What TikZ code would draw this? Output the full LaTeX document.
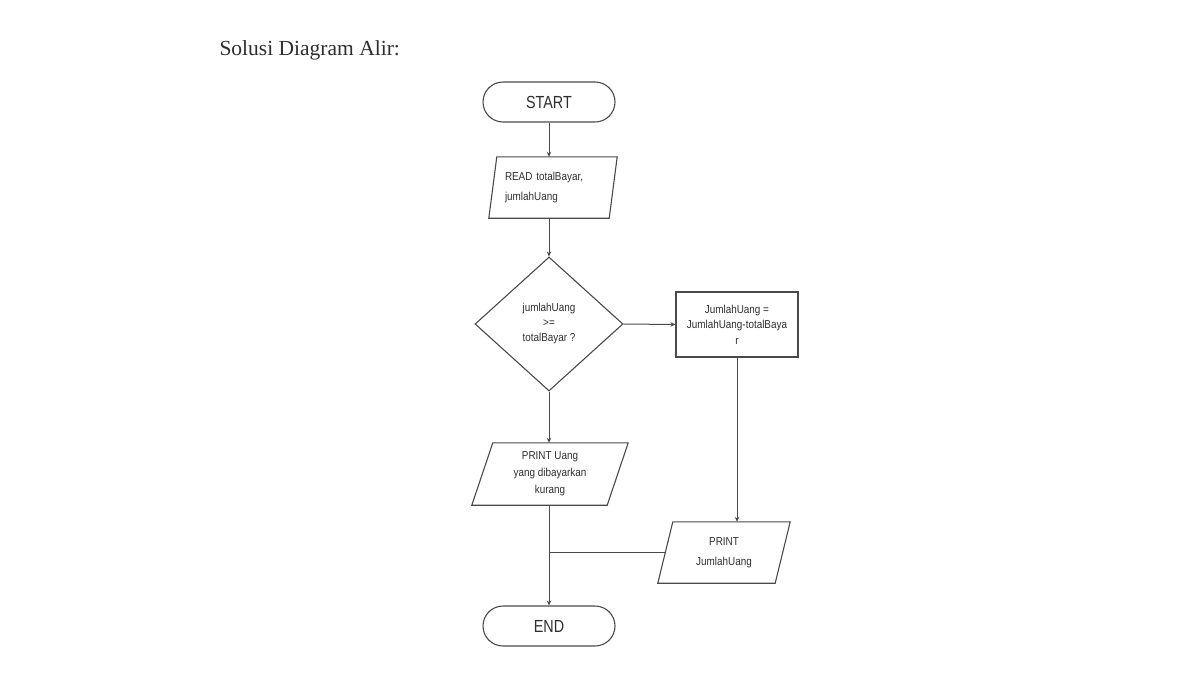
\documentclass[tikz,border=0pt]{standalone}
\usepackage{fontspec}
\usetikzlibrary{arrows.meta,shapes.geometric,calc}
\newfontfamily\flowfont[FakeStretch=0.86]{Liberation Sans}
\newfontfamily\bigflowfont[FakeStretch=0.82]{Liberation Sans}
\newfontfamily\titlefont{Liberation Serif}
\definecolor{ln}{HTML}{4A4A4A}
\definecolor{tx}{HTML}{2E2E2E}
\tikzset{
  terminal/.style={draw=ln, line width=1.1pt, rounded corners=20pt, minimum width=132pt, minimum height=40pt, inner sep=0pt, font=\bigflowfont\fontsize{17.5}{19}\selectfont, text=tx},
  iobox/.style={inner sep=0pt, font=\flowfont\fontsize{11.5}{16}\selectfont, text=tx, align=center},
  procbox/.style={draw=ln, line width=1.1pt, inner sep=0pt, minimum width=122pt, minimum height=65pt, font=\flowfont\fontsize{11.5}{15.5}\selectfont, text=tx, align=center},
  decision/.style={draw=ln, line width=1.1pt, diamond, aspect=1.1, inner sep=0pt, minimum width=148pt, minimum height=134pt, font=\flowfont\fontsize{11.5}{15}\selectfont, text=tx, align=center},
  outline/.style={draw=ln, line width=1.1pt},
  conn/.style={draw=ln, line width=1pt},
  arr/.style={conn, -{Stealth[length=5pt,width=4.5pt]}}
}
\begin{document}
\begin{tikzpicture}[x=1pt,y=-1pt]
\useasboundingbox (0,0) rectangle (1200,675);
\node[anchor=west, font=\titlefont\fontsize{21.5}{23}\selectfont, text=tx] (title) at (216,50) {Solusi Diagram Alir:};

\node[terminal] (start) at (549,102) {START};

\node[iobox, minimum width=128pt, minimum height=61pt, text width=96pt, align=left, font=\flowfont\fontsize{11.5}{20}\selectfont] (read) at (553,187.5) {READ totalBayar,\\ jumlahUang};
\draw[outline] ([xshift=8pt]read.north west) -- (read.north east) -- ([xshift=-8pt]read.south east) -- (read.south west) -- cycle;

\node[decision] (dec) at (549,324) {jumlahUang\\ \textgreater=\\ totalBayar ?};

\node[procbox] (calc) at (737,324.5) {JumlahUang =\\ JumlahUang-totalBaya\\ r};

\node[iobox, minimum width=156pt, minimum height=62pt, font=\flowfont\fontsize{11.5}{17}\selectfont] (pu) at (550,474) {PRINT Uang\\ yang dibayarkan\\ kurang};
\draw[outline] ([xshift=21pt]pu.north west) -- (pu.north east) -- ([xshift=-21pt]pu.south east) -- (pu.south west) -- cycle;

\node[iobox, minimum width=132pt, minimum height=61pt, font=\flowfont\fontsize{11.5}{20}\selectfont] (pj) at (724,552.5) {PRINT\\ JumlahUang};
\draw[outline] ([xshift=15pt]pj.north west) -- (pj.north east) -- ([xshift=-15pt]pj.south east) -- (pj.south west) -- cycle;

\node[terminal] (end) at (549,626) {END};

\coordinate (join) at (549,552.5);

\draw[arr] (start.south) -- (start.south |- read.north);
\draw[arr] (read.south -| dec.north) -- (dec.north);
\draw[arr] (dec.east) -- (calc.west);
\draw[arr] (dec.south) -- (dec.south |- pu.north);
\draw[arr] (calc.south) -- (calc.south |- pj.north);
\draw[conn] ([xshift=7.5pt]pj.west) -- (join);
\draw[arr] (pu.south -| end.north) -- (end.north);
\end{tikzpicture}
\end{document}
